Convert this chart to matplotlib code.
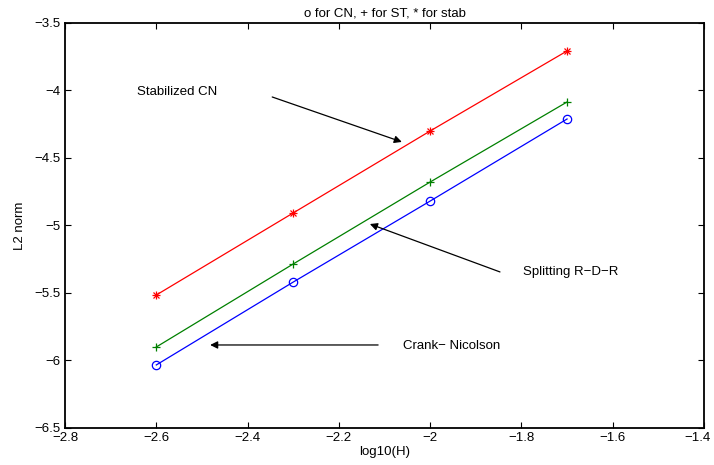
import matplotlib
matplotlib.use("Agg")
import matplotlib.pyplot as plt
import matplotlib.transforms as mtransforms
from matplotlib.ticker import FuncFormatter

# log10 of mesh size
log_h = [-2.6, -2.3, -2.0, -1.7]

# L2 norm of the error (log10)
err_cn = [-6.033, -5.419, -4.819, -4.211]     # Crank-Nicolson, 'o'
err_st = [-5.90, -5.285, -4.678, -4.085]      # Splitting R-D-R, '+'
err_stab = [-5.515, -4.907, -4.300, -3.707]   # Stabilized CN, '*'

xticks = [-2.8, -2.6, -2.4, -2.2, -2.0, -1.8, -1.6, -1.4]
yticks = [-6.5, -6.0, -5.5, -5.0, -4.5, -4.0, -3.5]


def matlab_fmt(v, pos):
    return ('%g' % v).replace('-', '\u2212')


plt.rcParams["font.family"] = ["Liberation Sans", "DejaVu Sans"]
plt.rcParams["font.size"] = 9.5

fig = plt.figure(figsize=(7.14, 4.65), dpi=100)
ax = fig.add_axes([65 / 714, 1 - 428 / 465, 639 / 714, 405 / 465])

ax.plot(log_h, err_cn, color="#0000ff", marker="o", markersize=6,
        markerfacecolor="none", markeredgewidth=0.9, linewidth=0.9)
ax.plot(log_h, err_st, color="#008000", marker="+", markersize=6,
        markeredgewidth=0.9, linewidth=0.9)
# matlab '*' = '+' and 'x' on top of each other
ax.plot(log_h, err_stab, color="#ff0000", marker="+", markersize=6,
        markeredgewidth=0.9, linewidth=0.9)
ax.plot(log_h, err_stab, color="#ff0000", marker="x", markersize=4.5,
        markeredgewidth=0.9, linestyle="none")

ax.set_xlim(-2.8, -1.4)
ax.set_ylim(-6.5, -3.5)
ax.set_xticks(xticks)
ax.set_yticks(yticks)
ax.xaxis.set_major_formatter(FuncFormatter(matlab_fmt))
ax.yaxis.set_major_formatter(FuncFormatter(matlab_fmt))
ax.tick_params(direction="in", top=True, right=True, length=4, width=0.8, pad=3)
for s in ax.spines.values():
    s.set_linewidth(1.3)

ax.set_title("o for CN, + for ST, * for stab", fontsize=9.5, pad=5)
ax.set_xlabel("log10(H)", labelpad=1)
ax.set_ylabel("L2 norm", labelpad=6)

# last x label sits at the figure edge, pull it in a bit
fig.canvas.draw()
last = ax.get_xticklabels()[-1]
last.set_transform(last.get_transform() +
                   mtransforms.ScaledTranslation(-5 / 72, 0, fig.dpi_scale_trans))

arrow = dict(arrowstyle="-|>", color="black", lw=0.9, mutation_scale=11,
             shrinkA=0, shrinkB=0)
ax.text(-2.642, -4.011, "Stabilized CN", va="center", ha="left")
ax.annotate("", xy=(-2.062, -4.381), xytext=(-2.346, -4.048), arrowprops=arrow)

ax.text(-1.797, -5.344, "Splitting R\u2212D\u2212R", va="center", ha="left")
ax.annotate("", xy=(-2.132, -4.989), xytext=(-1.847, -5.344), arrowprops=arrow)

ax.text(-2.059, -5.893, "Crank\u2212 Nicolson", va="center", ha="left")
ax.annotate("", xy=(-2.482, -5.885), xytext=(-2.114, -5.885), arrowprops=arrow)

fig.savefig("out.png", dpi=100)
